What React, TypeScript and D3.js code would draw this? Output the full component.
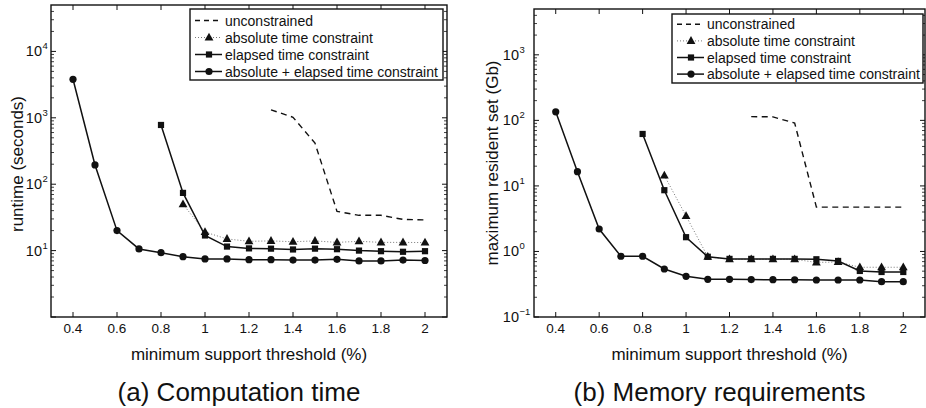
import React from "react";
import * as d3 from "d3";

// ---------- data ----------
const xTicks = [0.4, 0.6, 0.8, 1, 1.2, 1.4, 1.6, 1.8, 2];
const xTickLabels = ["0.4", "0.6", "0.8", "1", "1.2", "1.4", "1.6", "1.8", "2"];

const xAll = [0.4, 0.5, 0.6, 0.7, 0.8, 0.9, 1.0, 1.1, 1.2, 1.3, 1.4, 1.5, 1.6, 1.7, 1.8, 1.9, 2.0];
const xFrom08 = [0.8, 0.9, 1.0, 1.1, 1.2, 1.3, 1.4, 1.5, 1.6, 1.7, 1.8, 1.9, 2.0];
const xFrom09 = [0.9, 1.0, 1.1, 1.2, 1.3, 1.4, 1.5, 1.6, 1.7, 1.8, 1.9, 2.0];
const xFrom13 = [1.3, 1.4, 1.5, 1.6, 1.7, 1.8, 1.9, 2.0];

const runtimeUnconstrained = [1320, 1020, 415, 39, 34, 34, 29.5, 29];
const runtimeAbsolute = [50, 19, 15, 13.8, 14, 13.6, 14, 13.3, 13.8, 13.3, 13.3, 13.2];
const runtimeElapsed = [780, 74, 16.9, 11.5, 10.8, 10.7, 10.4, 10.7, 10.5, 10.0, 9.8, 9.6, 9.8];
const runtimeBoth = [3800, 195, 20, 10.6, 9.3, 8.1, 7.5, 7.5, 7.3, 7.3, 7.2, 7.2, 7.4, 7.0, 7.0, 7.2, 7.1];

const memoryUnconstrained = [114, 113, 91, 4.75, 4.75, 4.75, 4.75, 4.75];
const memoryAbsolute = [14.4, 3.48, 0.83, 0.76, 0.76, 0.76, 0.76, 0.68, 0.69, 0.574, 0.574, 0.574];
const memoryElapsed = [62, 8.6, 1.65, 0.83, 0.77, 0.77, 0.77, 0.77, 0.76, 0.716, 0.504, 0.486, 0.486];
const memoryBoth = [135, 16.5, 2.2, 0.845, 0.845, 0.54, 0.418, 0.376, 0.376, 0.372, 0.371, 0.37, 0.367, 0.367, 0.367, 0.346, 0.346];

const legendLabels = [
  "unconstrained",
  "absolute time constraint",
  "elapsed time constraint",
  "absolute + elapsed time constraint",
];

const runtimeDecades = [0, 1, 2, 3, 4];
const memoryDecades = [-1, 0, 1, 2, 3];

const FONT = "'Liberation Sans', Arial, Helvetica, sans-serif";

type Style = "dashed" | "dotted-tri" | "square" | "circle";

type Series = { xs: number[]; ys: number[]; style: Style };

function Marker({ style, cx, cy }: { style: Style; cx: number; cy: number }) {
  if (style === "circle") return <circle cx={cx} cy={cy} r={3.6} fill="#111" />;
  if (style === "square") return <rect x={cx - 3.1} y={cy - 3.1} width={6.2} height={6.2} fill="#111" />;
  if (style === "dotted-tri")
    return <path d={`M${cx},${cy - 4.8}L${cx + 4.4},${cy + 3}L${cx - 4.4},${cy + 3}Z`} fill="#111" />;
  return null;
}

function lineStyle(style: Style) {
  if (style === "dashed") return { stroke: "#111", strokeWidth: 1.4, strokeDasharray: "6,4.5" };
  if (style === "dotted-tri") return { stroke: "#777", strokeWidth: 1, strokeDasharray: "1,2" };
  return { stroke: "#111", strokeWidth: 1.5 };
}

type PanelProps = {
  x0: number; x1: number; y0: number; y1: number;
  yMin: number; yMax: number;
  decades: number[];
  hideLabels: number[];
  series: Series[];
  yLabel: string; yLabelX: number; yLabelY: number;
  tickLabelGap: number;
  legend: { left: number; top: number; right: number; bottom: number; firstRow: number; rowStep: number };
  caption: string;
};

function Panel(p: PanelProps) {
  const x = d3.scaleLinear().domain([0.3, 2.1]).range([p.x0, p.x1]);
  const y = d3.scaleLog().domain([p.yMin, p.yMax]).range([p.y1, p.y0]);
  const minors: number[] = [];
  const lo = Math.floor(Math.log10(p.yMin));
  const hi = Math.ceil(Math.log10(p.yMax));
  for (let e = lo; e <= hi; e++) {
    for (let k = 2; k <= 9; k++) {
      const v = k * Math.pow(10, e);
      if (v > p.yMin && v < p.yMax) minors.push(v);
    }
  }
  const line = d3.line<[number, number]>().x((d) => x(d[0])).y((d) => y(d[1]));
  const cx = (p.x0 + p.x1) / 2;
  const lg = p.legend;
  return (
    <g fontFamily={FONT} fill="#111">
      {/* series */}
      {p.series.map((s, i) => {
        const pts = s.xs.map((v, j) => [v, s.ys[j]] as [number, number]);
        return (
          <g key={i}>
            <path d={line(pts) || ""} fill="none" {...lineStyle(s.style)} />
            {pts.map((d, j) => (
              <Marker key={j} style={s.style} cx={x(d[0])} cy={y(d[1])} />
            ))}
          </g>
        );
      })}
      {/* x ticks */}
      {xTicks.map((t, i) => (
        <g key={i}>
          <line x1={x(t)} x2={x(t)} y1={p.y1} y2={p.y1 - 5} stroke="#111" strokeWidth={1} />
          <line x1={x(t)} x2={x(t)} y1={p.y0} y2={p.y0 + 5} stroke="#111" strokeWidth={1} />
          <text x={x(t)} y={333} textAnchor="middle" fontSize={13.5}>{xTickLabels[i]}</text>
        </g>
      ))}
      {/* y ticks */}
      {p.decades.map((e) => {
        const v = Math.pow(10, e);
        const yy = y(v);
        return (
          <g key={e}>
            <line x1={p.x0} x2={p.x0 + 5} y1={yy} y2={yy} stroke="#111" strokeWidth={1} />
            <line x1={p.x1} x2={p.x1 - 5} y1={yy} y2={yy} stroke="#111" strokeWidth={1} />
            {p.hideLabels.includes(e) ? null : (
              <text x={p.x0 - p.tickLabelGap} y={yy + 5} fontSize={14.5} textAnchor="end">10</text>
            )}
            {p.hideLabels.includes(e) ? null : (
              <text x={p.x0 - p.tickLabelGap + 0.5} y={yy - 2} fontSize={9.5} textAnchor="start">
                {e < 0 ? "\u2212" + Math.abs(e) : String(e)}
              </text>
            )}
          </g>
        );
      })}
      {minors.map((v, i) => (
        <g key={i}>
          <line x1={p.x0} x2={p.x0 + 3} y1={y(v)} y2={y(v)} stroke="#111" strokeWidth={0.8} />
          <line x1={p.x1} x2={p.x1 - 3} y1={y(v)} y2={y(v)} stroke="#111" strokeWidth={0.8} />
        </g>
      ))}
      {/* box */}
      <rect x={p.x0} y={p.y0} width={p.x1 - p.x0} height={p.y1 - p.y0} fill="none" stroke="#111" strokeWidth={1.4} />
      {/* legend */}
      <rect x={lg.left} y={lg.top} width={lg.right - lg.left} height={lg.bottom - lg.top} fill="#fff" stroke="#111" strokeWidth={1.4} />
      {legendLabels.map((lab, i) => {
        const ry = lg.firstRow + i * lg.rowStep;
        const st = p.series[i].style;
        const sx0 = lg.left + 5;
        const sx1 = lg.left + 32;
        return (
          <g key={i}>
            <line x1={sx0} x2={sx1} y1={ry} y2={ry} {...lineStyle(st)} {...(st === "dashed" ? { strokeDasharray: "5,4" } : {})} />
            <Marker style={st} cx={(sx0 + sx1) / 2 + 0.5} cy={ry} />
            <text x={lg.left + 35} y={ry + 5} fontSize={14}>{lab}</text>
          </g>
        );
      })}
      {/* labels */}
      <text x={cx} y={360} textAnchor="middle" fontSize={17}>minimum support threshold (%)</text>
      <text transform={`translate(${p.yLabelX},${p.yLabelY}) rotate(-90)`} textAnchor="middle" fontSize={17}>{p.yLabel}</text>
      <text x={cx - 10} y={401} textAnchor="middle" fontSize={26}>{p.caption}</text>
    </g>
  );
}

export default function App() {
  return (
    <svg width={926} height={408} style={{ position: "absolute", left: 0, top: 0, background: "#fff" }}>
      <rect x={0} y={0} width={926} height={408} fill="#fff" />
      <Panel
        x0={51} x1={447} y0={5} y1={317}
        yMin={1} yMax={5e4}
        decades={runtimeDecades}
        hideLabels={[0]}
        series={[
          { xs: xFrom13, ys: runtimeUnconstrained, style: "dashed" },
          { xs: xFrom09, ys: runtimeAbsolute, style: "dotted-tri" },
          { xs: xFrom08, ys: runtimeElapsed, style: "square" },
          { xs: xAll, ys: runtimeBoth, style: "circle" },
        ]}
        yLabel="runtime (seconds)" yLabelX={23} yLabelY={164}
        tickLabelGap={9}
        legend={{ left: 190, top: 9, right: 443, bottom: 80, firstRow: 20.5, rowStep: 17 }}
        caption="(a) Computation time"
      />
      <Panel
        x0={534} x1={925} y0={9} y1={317}
        yMin={0.1} yMax={5e3}
        decades={memoryDecades}
        hideLabels={[]}
        series={[
          { xs: xFrom13, ys: memoryUnconstrained, style: "dashed" },
          { xs: xFrom09, ys: memoryAbsolute, style: "dotted-tri" },
          { xs: xFrom08, ys: memoryElapsed, style: "square" },
          { xs: xAll, ys: memoryBoth, style: "circle" },
        ]}
        yLabel="maximum resident set (Gb)" yLabelX={498} yLabelY={163}
        tickLabelGap={15}
        legend={{ left: 672, top: 14, right: 923, bottom: 83, firstRow: 24.3, rowStep: 16.6 }}
        caption="(b) Memory requirements"
      />
    </svg>
  );
}
